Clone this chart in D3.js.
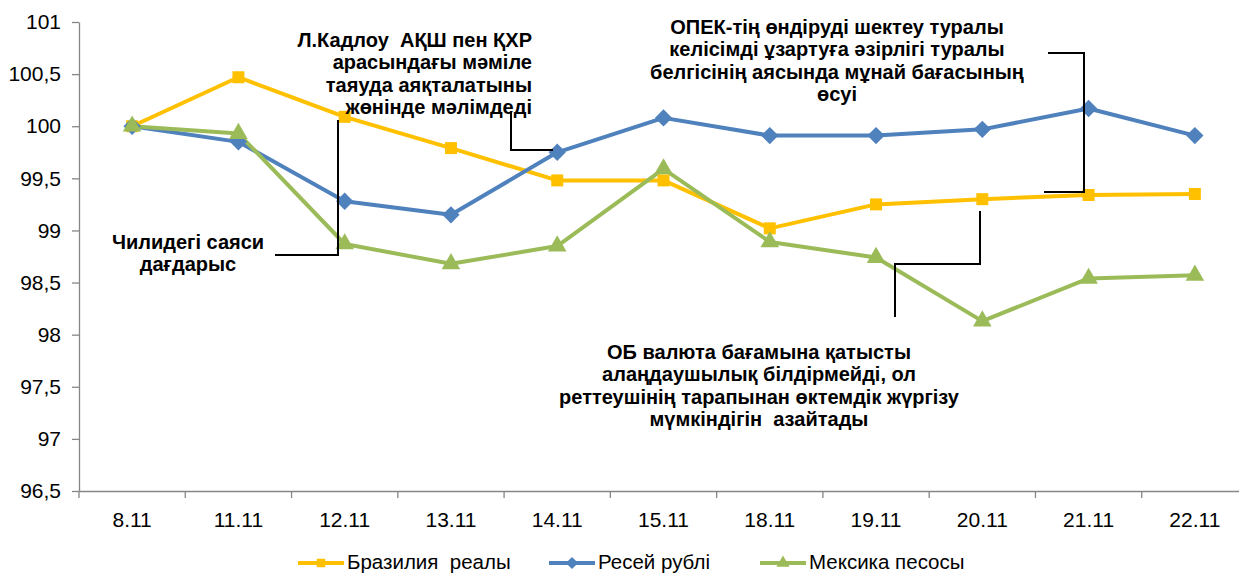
<!DOCTYPE html>
<html>
<head>
<meta charset="utf-8">
<script src="https://cdn.jsdelivr.net/npm/d3@7"></script>
<style>
  body { margin: 0; background: #fff; }
  text { font-family: Arial, "Liberation Sans", sans-serif; white-space: pre; }
</style>
</head>
<body>
<svg id="chart" width="1239" height="576"></svg>
<script>
var dates = ["8.11", "11.11", "12.11", "13.11", "14.11", "15.11", "18.11", "19.11", "20.11", "21.11", "22.11"];
var brazil = [100, 100.47, 100.09, 99.79, 99.48, 99.48, 99.02, 99.25, 99.30, 99.34, 99.35];
var russia = [100, 99.85, 99.28, 99.15, 99.75, 100.08, 99.91, 99.91, 99.97, 100.17, 99.91];
var mexico = [100, 99.93, 98.87, 98.68, 98.85, 99.59, 98.89, 98.74, 98.13, 98.54, 98.57];
var yTicks = [96.5, 97, 97.5, 98, 98.5, 99, 99.5, 100, 100.5, 101];
var seriesNames = ["Бразилия  реалы", "Ресей рублі", "Мексика песосы"];
var seriesColors = ["#FFC000", "#4F81BD", "#9BBB59"];

var svg = d3.select("#chart"),
  margin = { top: 22, left: 79, bottom: 491, right: 1248 };

var x = d3.scaleBand().domain(dates).range([margin.left, margin.right]);
var y = d3.scaleLinear().domain([96.5, 101]).range([margin.bottom, margin.top]);

var series = [
  { name: seriesNames[0], color: seriesColors[0], values: brazil, shape: "square" },
  { name: seriesNames[1], color: seriesColors[1], values: russia, shape: "diamond" },
  { name: seriesNames[2], color: seriesColors[2], values: mexico, shape: "triangle" }
];

function markerPath(shape, scale) {
  if (shape == "square") return d3.symbol(d3.symbolSquare, 144 * scale)();
  if (shape == "diamond") return d3.symbol(d3.symbolSquare, 150 * scale)();
  return d3.symbol(d3.symbolTriangle, 150 * scale)();
}

// y axis
var yAxis = svg.append("g")
  .attr("transform", "translate(" + margin.left + ",0)")
  .call(d3.axisLeft(y).tickValues(yTicks).tickSize(7).tickSizeOuter(0).tickPadding(11)
    .tickFormat(function(d) { return String(d).replace(".", ","); }));
yAxis.select(".domain").attr("stroke", "#868686").attr("stroke-width", 1.3);
yAxis.selectAll(".tick line").attr("stroke", "#868686").attr("stroke-width", 1.3);
yAxis.selectAll("text").attr("font-size", 21).attr("fill", "#000").attr("font-family", "Arial, 'Liberation Sans', sans-serif");

// x axis: labels at band centres, ticks at band edges
var xAxis = svg.append("g")
  .attr("transform", "translate(0," + margin.bottom + ")")
  .call(d3.axisBottom(x).tickSize(0).tickPadding(21));
xAxis.select(".domain").attr("stroke", "#868686").attr("stroke-width", 1.3);
xAxis.selectAll("text").attr("font-size", 21).attr("fill", "#000").attr("font-family", "Arial, 'Liberation Sans', sans-serif");
xAxis.selectAll(".edge")
  .data(dates)
  .enter().append("line")
  .attr("class", "edge")
  .attr("x1", function(d) { return x(d); })
  .attr("x2", function(d) { return x(d); })
  .attr("y1", 0).attr("y2", 7)
  .attr("stroke", "#868686").attr("stroke-width", 1.3);

// lines and markers
var line = d3.line()
  .x(function(d, i) { return x(dates[i]) + x.bandwidth() / 2; })
  .y(function(d) { return y(d); });

series.forEach(function(s) {
  svg.append("path")
    .datum(s.values)
    .attr("fill", "none")
    .attr("stroke", s.color)
    .attr("stroke-width", 4)
    .attr("stroke-linejoin", "round")
    .attr("d", line);
});

series.forEach(function(s) {
  svg.append("g").selectAll("path")
    .data(s.values)
    .enter().append("path")
    .attr("d", markerPath(s.shape, 1))
    .attr("fill", s.color)
    .attr("transform", function(d, i) {
      var t = "translate(" + (x(dates[i]) + x.bandwidth() / 2) + "," + y(d) + ")";
      return s.shape == "diamond" ? t + " rotate(45)" : t;
    });
});

// annotations
var notes = [
  { lines: ["Чилидегі саяси", "дағдарыс"], anchor: "middle", x: 188, y: 249,
    path: [[275, 255], [338, 255], [338, 120]] },
  { lines: ["Л.Кадлоу  АҚШ пен ҚХР", "арасындағы мәміле", "таяуда аяқталатыны", "жөнінде мәлімдеді"],
    anchor: "end", x: 532, y: 47, path: [[511, 112], [511, 150], [553, 150]] },
  { lines: ["ОПЕК-тің өндіруді шектеу туралы", "келісімді ұзартуға әзірлігі туралы", "белгісінің аясында мұнай бағасының", "өсуі"],
    anchor: "middle", x: 837, y: 34, path: [[1048, 53], [1084, 53], [1084, 192], [1044, 192]] },
  { lines: ["ОБ валюта бағамына қатысты", "алаңдаушылық білдірмейді, ол", "реттеушінің тарапынан өктемдік жүргізу", "мүмкіндігін  азайтады"],
    anchor: "middle", x: 759, y: 359, path: [[980, 211], [980, 264], [895, 264], [895, 317]] }
];

notes.forEach(function(n) {
  svg.append("path")
    .attr("d", d3.line()(n.path))
    .attr("fill", "none")
    .attr("stroke", "#000")
    .attr("stroke-width", 2);
  var t = svg.append("text")
    .attr("x", n.x).attr("y", n.y)
    .attr("text-anchor", n.anchor)
    .attr("font-size", 20)
    .attr("font-weight", "bold")
    .attr("fill", "#000");
  n.lines.forEach(function(l, i) {
    t.append("tspan").attr("x", n.x).attr("dy", i == 0 ? 0 : 22.3).text(l);
  });
});

// legend
var legendX = [298, 549, 760];
var legend = svg.append("g")
  .selectAll("g")
  .data(series)
  .enter().append("g")
  .attr("transform", function(d, i) { return "translate(" + legendX[i] + ",563)"; });

legend.append("line")
  .attr("x1", 0).attr("x2", 46)
  .attr("stroke", function(d) { return d.color; })
  .attr("stroke-width", 4);
legend.append("path")
  .attr("d", function(d) { return markerPath(d.shape, 0.5); })
  .attr("fill", function(d) { return d.color; })
  .attr("transform", function(d) { return "translate(23,0)" + (d.shape == "diamond" ? " rotate(45)" : ""); });
legend.append("text")
  .attr("x", 49)
  .attr("dy", "0.3em")
  .attr("font-size", 20.5)
  .attr("fill", "#000")
  .text(function(d) { return d.name; });
</script>
</body>
</html>
